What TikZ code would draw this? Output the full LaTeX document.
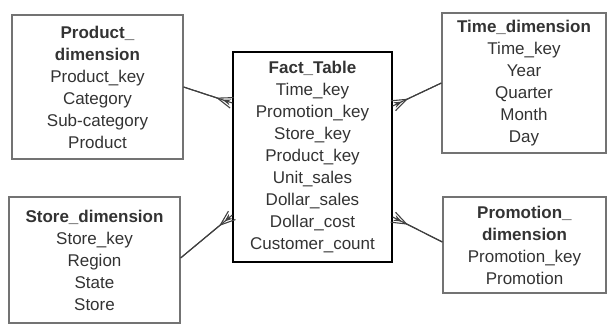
\documentclass[tikz,border=0pt]{standalone}
\usepackage{fontspec}
\setmainfont{Liberation Sans}
\usetikzlibrary{arrows.meta}

\tikzset{
  dimbox/.style={draw=black!55, line width=1.2pt, align=center, inner sep=0pt,
    font=\fontsize{17}{22}\selectfont, text=black!80},
  factbox/.style={dimbox, draw=black, line width=1.3pt},
  many/.style={draw=black!75, line width=1.1pt,
    postaction={draw, -{Stealth[reversed,length=8pt,width=6pt,sep=-15pt]Straight Barb[reversed,length=15pt,width=11pt,line width=1.1pt]}}}
}

\begin{document}
\begin{tikzpicture}[x=1pt, y=-1pt]
\useasboundingbox (0,0) rectangle (608,327);
% tables
\node[dimbox, minimum width=171pt, minimum height=144pt] (product) at (97.5,87)
  {\textbf{Product\_}\\\textbf{dimension}\\Product\_key\\Category\\Sub-category\\Product};
\node[factbox, minimum width=159pt, minimum height=210pt] (fact) at (312.5,157)
  {\textbf{Fact\_Table}\\Time\_key\\Promotion\_key\\Store\_key\\Product\_key\\Unit\_sales\\Dollar\_sales\\Dollar\_cost\\Customer\_count};
\node[dimbox, minimum width=164pt, minimum height=140pt] (time) at (524,83)
  {\textbf{Time\_dimension}\\Time\_key\\Year\\Quarter\\Month\\Day};
\node[dimbox, minimum width=171pt, minimum height=126pt] (store) at (94.5,260)
  {\textbf{Store\_dimension}\\Store\_key\\Region\\State\\Store};
\node[dimbox, minimum width=163pt, minimum height=96pt] (promo) at (524.5,245)
  {\textbf{Promotion\_}\\\textbf{dimension}\\Promotion\_key\\Promotion};
% links, many side at the fact table
\draw[many] (product.east) -- ([yshift=54pt]fact.west);
\draw[many] (time.west) -- ([yshift=51pt]fact.east);
\draw[many] ([yshift=2pt]store.east) -- ([yshift=-58pt]fact.west);
\draw[many] ([yshift=3pt]promo.west) -- ([yshift=-60pt]fact.east);
\end{tikzpicture}
\end{document}
